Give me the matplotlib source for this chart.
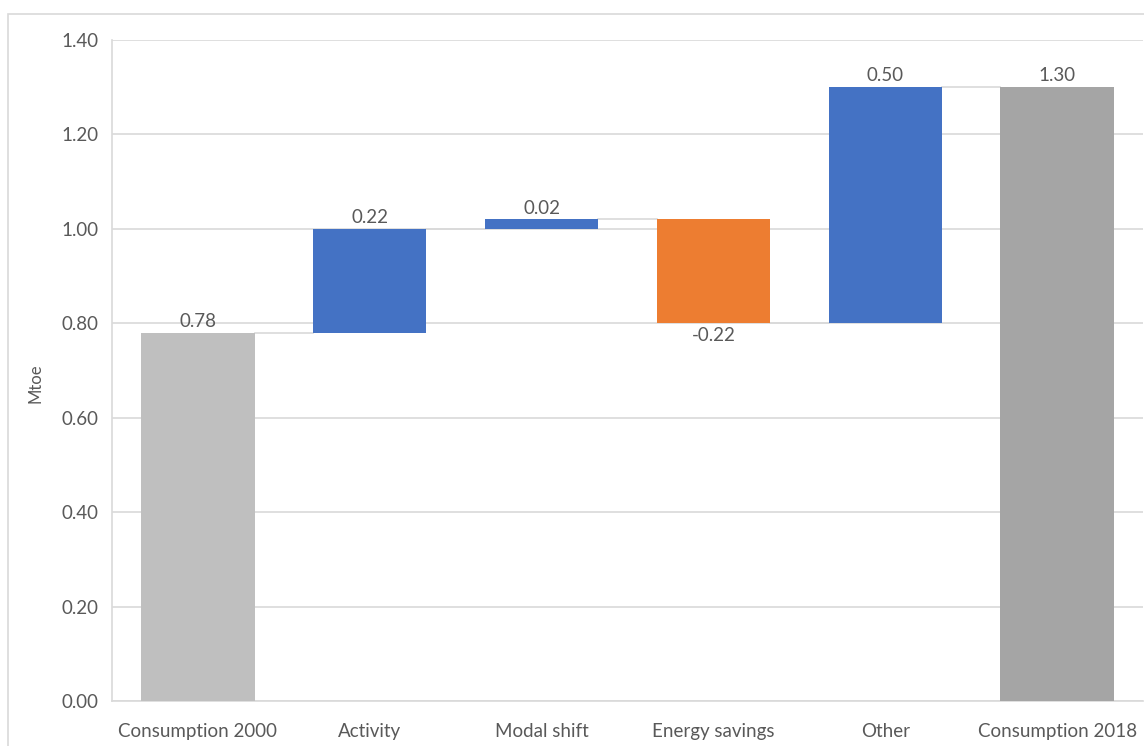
import matplotlib.pyplot as plt
from matplotlib.patches import Rectangle

plt.rcParams["font.family"] = ["Lato", "DejaVu Sans"]

categories = ["Consumption 2000", "Activity", "Modal shift", "Energy savings",
              "Other", "Consumption 2018"]
changes = [0.78, 0.22, 0.02, -0.22, 0.50, 1.30]
is_total = [True, False, False, False, False, True]
colors = ["#bfbfbf", "#4472c4", "#4472c4", "#ed7d31", "#4472c4", "#a5a5a5"]
y_ticks = [0.0, 0.2, 0.4, 0.6, 0.8, 1.0, 1.2, 1.4]

text_color = "#595959"
grid_color = "#d9d9d9"
bar_w = 0.66
fs = 13.5

fig = plt.figure(figsize=(11.44, 7.46), dpi=100)
fig.patches.append(Rectangle((8 / 1144, -0.01), 1.1, 1 - 14 / 746 + 0.01,
                             transform=fig.transFigure, fill=False,
                             edgecolor=grid_color, linewidth=1.2))
ax = fig.add_axes([112 / 1144, 45 / 746, 1031 / 1144, 661 / 746])

# running total -> bottom/top of each floating bar
level = 0.0
bottoms, tops, ends = [], [], []
for val, total in zip(changes, is_total):
    if total:
        b, t = 0.0, val
        level = val
    else:
        b, t = min(level, level + val), max(level, level + val)
        level += val
    bottoms.append(b)
    tops.append(t)
    ends.append(level)

x = list(range(len(categories)))
ax.bar(x, [t - b for b, t in zip(bottoms, tops)], bottom=bottoms,
       width=bar_w, color=colors, zorder=3)

# connectors between neighbouring bars
for i in range(len(x) - 1):
    ax.plot([x[i] + bar_w / 2, x[i + 1] - bar_w / 2], [ends[i], ends[i]],
            color=grid_color, linewidth=1.2, zorder=2)

for i, (val, total) in enumerate(zip(changes, is_total)):
    if val >= 0:
        ax.annotate(f"{val:.2f}", (x[i], tops[i]), xytext=(0, 2),
                    textcoords="offset points", ha="center", va="bottom",
                    fontsize=fs, color=text_color)
    else:
        ax.annotate(f"{val:.2f}", (x[i], bottoms[i]), xytext=(0, -3),
                    textcoords="offset points", ha="center", va="top",
                    fontsize=fs, color=text_color)

ax.set_xlim(-0.5, len(x) - 0.5)
ax.set_ylim(0, 1.4)
ax.set_yticks(y_ticks)
ax.set_yticklabels([f"{v:.2f}" for v in y_ticks])
ax.set_xticks(x)
ax.set_xticklabels(categories)
ax.yaxis.grid(True, color=grid_color, linewidth=1.2, zorder=0)
ax.set_axisbelow(True)
for side in ["top", "right"]:
    ax.spines[side].set_visible(False)
for side in ["left", "bottom"]:
    ax.spines[side].set_color(grid_color)
    ax.spines[side].set_linewidth(1.2)
ax.tick_params(axis="both", length=0, labelsize=fs, labelcolor=text_color)
ax.tick_params(axis="y", pad=10)
ax.tick_params(axis="x", pad=16)
fig.text(35 / 1144, 1 - 383 / 746, "Mtoe", rotation=90, ha="center",
         va="center", fontsize=12, color=text_color)

fig.savefig("out.png", dpi=100)
